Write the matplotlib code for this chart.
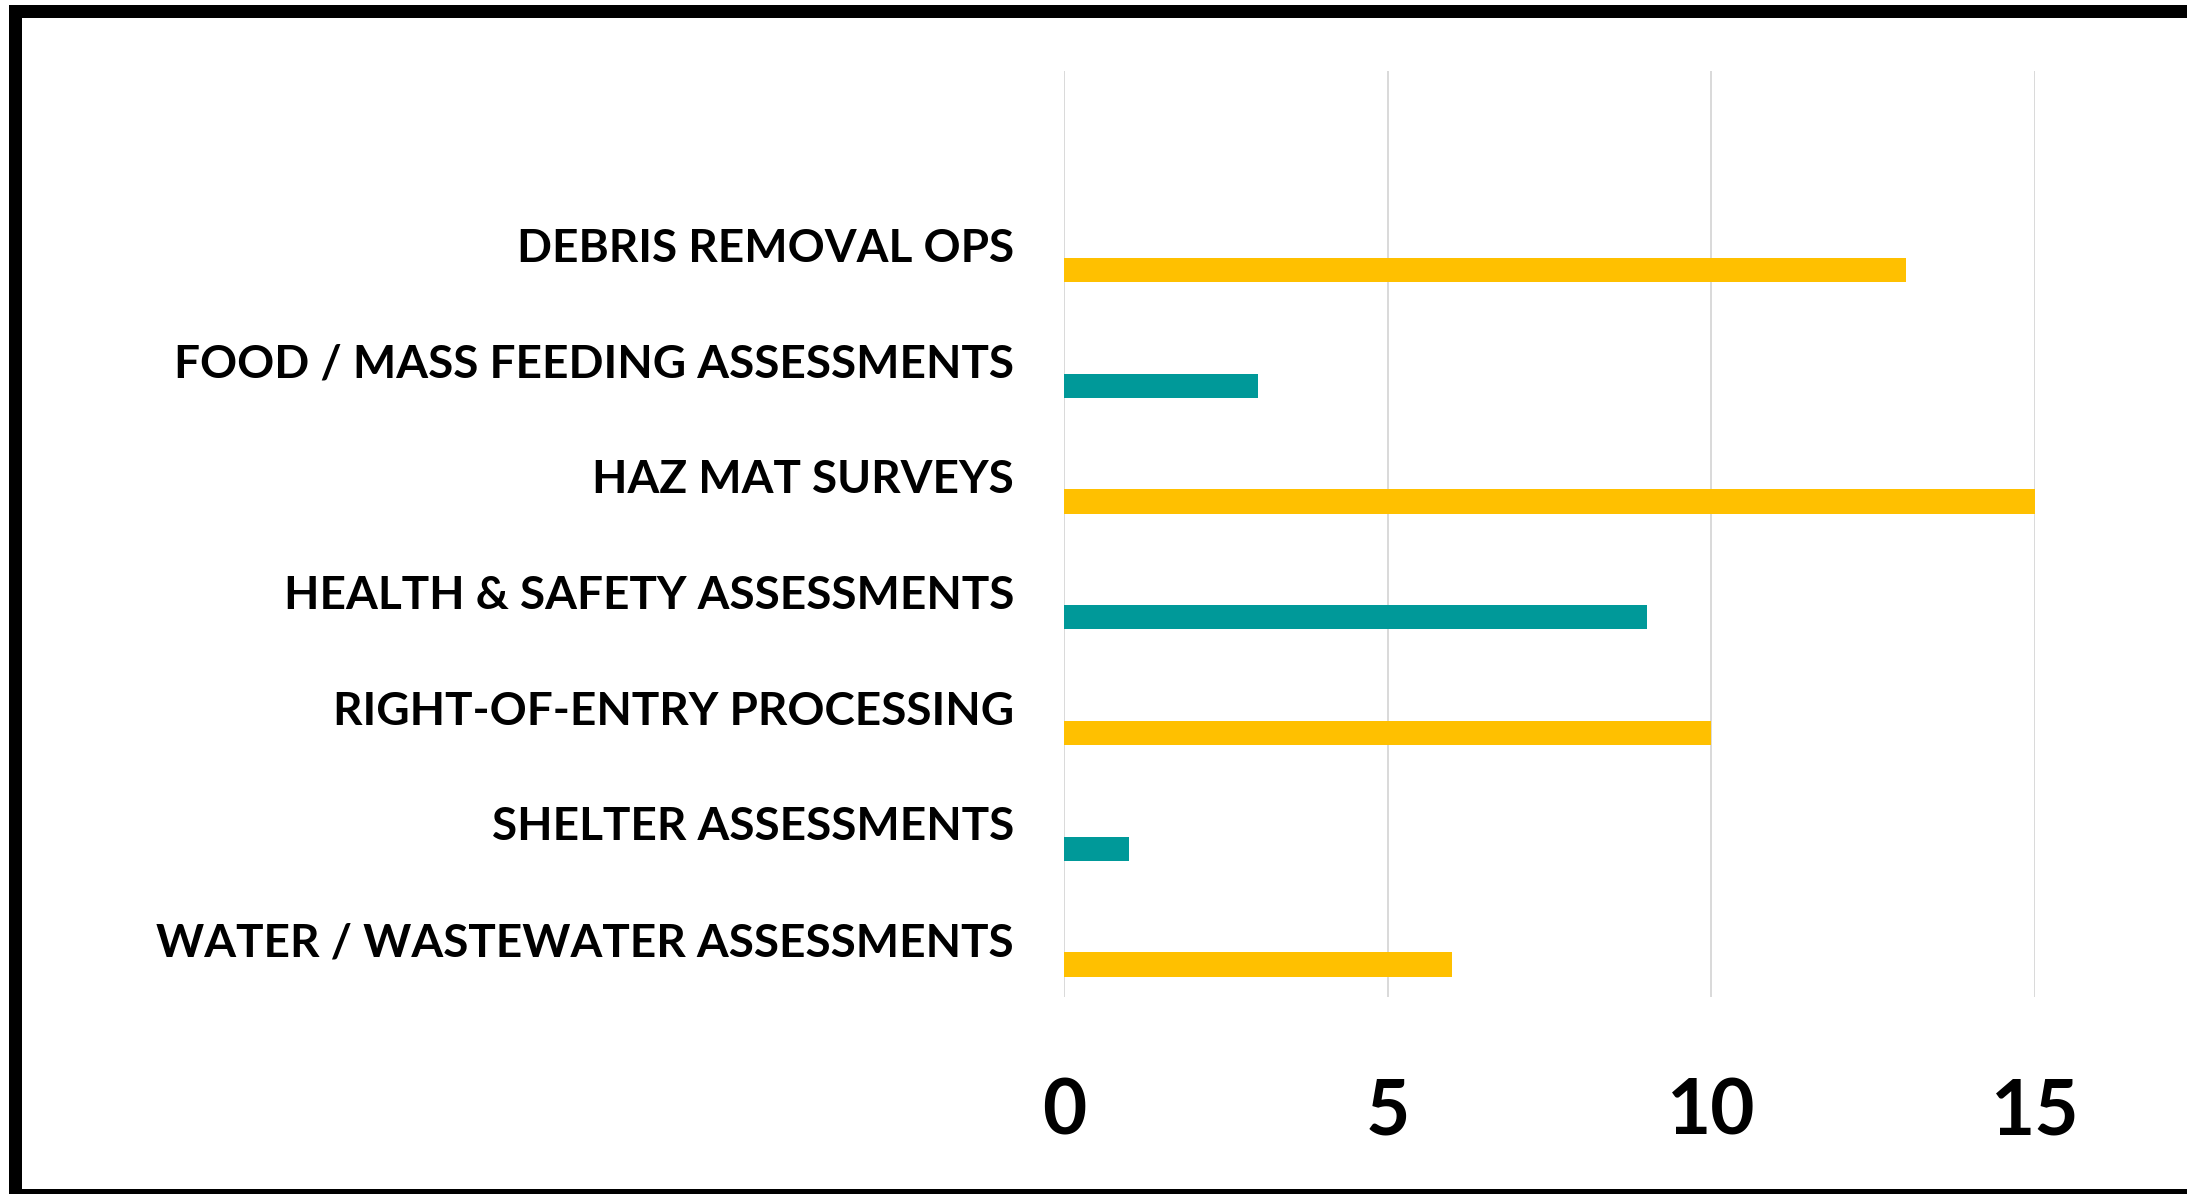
import matplotlib.pyplot as plt
from matplotlib.patches import Rectangle

# categories from bottom to top
categories = [
    "WATER / WASTEWATER ASSESSMENTS",
    "SHELTER ASSESSMENTS",
    "RIGHT-OF-ENTRY PROCESSING",
    "HEALTH & SAFETY ASSESSMENTS",
    "HAZ MAT SURVEYS",
    "FOOD / MASS FEEDING ASSESSMENTS",
    "DEBRIS REMOVAL OPS",
]
values = [6, 1, 10, 9, 15, 3, 13]
bar_colors = ["#FFC000", "#009999", "#FFC000", "#009999", "#FFC000", "#009999", "#FFC000"]
x_ticks = [0, 5, 10, 15]

W, H, DPI = 2187, 1194, 100
fig = plt.figure(figsize=(W / DPI, H / DPI), dpi=DPI)
fig.patch.set_facecolor("white")

# plot area in pixels: left 1064, right 2035, top 71, bottom 997
ax = fig.add_axes([1064 / W, 1 - 997 / H, (2035 - 1064) / W, (997 - 71) / H])

ypos = list(range(len(categories)))
bar_h = 0.21
ax.barh([y - 0.22 for y in ypos], values, height=bar_h, color=bar_colors, zorder=3)

ax.set_xlim(0, 15)
ax.set_ylim(-0.5, len(categories) + 0.5)
ax.set_xticks(x_ticks)
ax.set_yticks(ypos)
ax.set_yticklabels(categories, fontfamily="Lato", fontweight="bold", fontsize=33, color="black")
ax.set_xticklabels([str(t) for t in x_ticks], fontfamily="Lato", fontweight="bold", fontsize=55, color="black")
ax.tick_params(axis="y", length=0, pad=36)
ax.tick_params(axis="x", length=0, pad=58)

ax.grid(axis="x", color="#D9D9D9", linewidth=1.4, zorder=0)
for s in ax.spines.values():
    s.set_visible(False)

# thick black frame around the chart
lw_px = 13
fig.patches.append(Rectangle((14.5 / W, 1 - 1194.5 / H), (2189 - 14.5) / W, (1194.5 - 10.5) / H,
                             transform=fig.transFigure, fill=False, edgecolor="black",
                             linewidth=lw_px * 72 / DPI, zorder=10))

fig.savefig("out.png", dpi=DPI)
